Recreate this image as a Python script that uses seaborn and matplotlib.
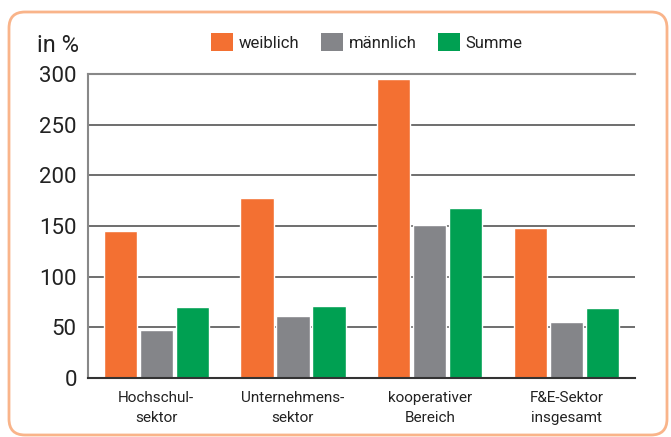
import pandas as pd
import matplotlib.pyplot as plt
import seaborn as sns
from matplotlib.patches import FancyBboxPatch, Patch

# data
categories = ["Hochschul-\nsektor", "Unternehmens-\nsektor", "kooperativer\nBereich", "F&E-Sektor\ninsgesamt"]
weiblich = [145, 178, 295, 148]
maennlich = [47, 61, 151, 55]
summe = [70, 71, 168, 69]
series = ["weiblich", "männlich", "Summe"]
colors = ["#F37032", "#848589", "#00A052"]

df = pd.DataFrame({
    "Bereich": categories * 3,
    "Gruppe": [s for s in series for _ in categories],
    "Wert": weiblich + maennlich + summe,
})

sns.set_style("white")
plt.rcParams["font.family"] = ["Roboto", "DejaVu Sans"]

fig = plt.figure(figsize=(6.71, 4.37), dpi=100)
ax = fig.add_axes([0.131, 0.135, 0.815, 0.696])

sns.barplot(data=df, x="Bereich", y="Wert", hue="Gruppe", palette=colors,
            width=0.79, gap=0.08, saturation=1, ax=ax, legend=False)

ax.set_xlim(-0.5, 3.5)
ax.set_ylim(0, 300)
ax.set_yticks(range(0, 301, 50))
ax.set_xlabel("")
ax.set_ylabel("")
ax.yaxis.grid(True, color="#555555", lw=1.2)
ax.set_axisbelow(True)
ax.tick_params(axis="y", length=0, pad=8, labelsize=16, labelcolor="#222222")
ax.tick_params(axis="x", length=0, pad=9, labelsize=11, labelcolor="#222222")
for lbl in ax.get_xticklabels():
    lbl.set_linespacing(1.55)
ax.set_xticks([0.5, 1.5, 2.5, 3.5], minor=True)
ax.tick_params(axis="x", which="minor", direction="in", length=8, width=1, color="#333333")

ax.spines["right"].set_visible(False)
ax.spines["top"].set_color("#888888")
ax.spines["top"].set_linewidth(1.5)
ax.spines["left"].set_color("#888888")
ax.spines["left"].set_linewidth(1.5)
ax.spines["bottom"].set_color("#333333")
ax.spines["bottom"].set_linewidth(1.5)

fig.text(0.055, 0.895, "in %", fontsize=17, color="#222222", va="center")

handles = [Patch(facecolor=c, edgecolor="none") for c in colors]
fig.legend(handles, series, loc="center", bbox_to_anchor=(0.547, 0.903), ncol=3,
           frameon=False, fontsize=12, handlelength=1.3, handleheight=1.3,
           handletextpad=0.35, columnspacing=1.3, labelcolor="#222222")

# rounded orange frame around the chart
frame = FancyBboxPatch((9, 2), 658, 423, boxstyle="round,pad=0,rounding_size=16",
                       transform=None, fill=False, edgecolor="#F9B48A", lw=2)
fig.patches.append(frame)

fig.savefig("out.png", dpi=100)
